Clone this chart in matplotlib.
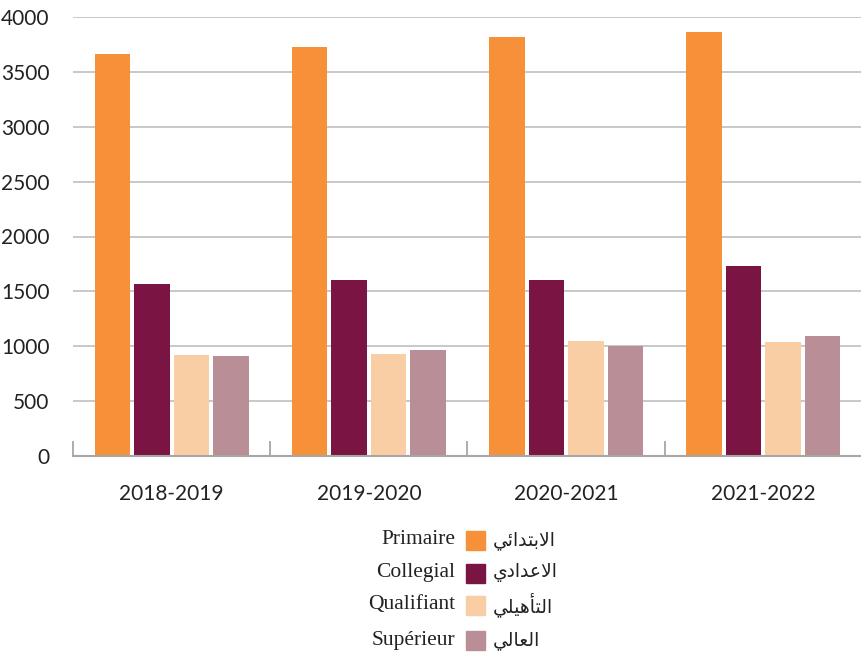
import numpy as np
import matplotlib
matplotlib.use('Agg')
import matplotlib.pyplot as plt
from matplotlib.patches import Rectangle

years = ['2018-2019', '2019-2020', '2020-2021', '2021-2022']
primaire = [3660, 3725, 3815, 3865]
collegial = [1565, 1600, 1600, 1730]
qualifiant = [920, 930, 1045, 1040]
superieur = [910, 965, 1000, 1095]

labels_fr = ['Primaire', 'Collegial', 'Qualifiant', 'Supérieur']
labels_ar = ['الابتدائي', 'الاعدادي', 'التأهيلي', 'العالي']
colors = ['#F6913A', '#7A1442', '#F9CEA5', '#BA8E97']

# minimal arabic shaping (matplotlib does no shaping / bidi)
FORMS = {
    'ا': ('\uFE8D', '\uFE8E', None, None),
    'أ': ('\uFE83', '\uFE84', None, None),
    'د': ('\uFEA9', '\uFEAA', None, None),
    'ب': ('\uFE8F', '\uFE90', '\uFE91', '\uFE92'),
    'ت': ('\uFE95', '\uFE96', '\uFE97', '\uFE98'),
    'ئ': ('\uFE89', '\uFE8A', '\uFE8B', '\uFE8C'),
    'ي': ('\uFEF1', '\uFEF2', '\uFEF3', '\uFEF4'),
    'ل': ('\uFEDD', '\uFEDE', '\uFEDF', '\uFEE0'),
    'ع': ('\uFEC9', '\uFECA', '\uFECB', '\uFECC'),
    'ه': ('\uFEE9', '\uFEEA', '\uFEEB', '\uFEEC'),
}
LAM_ALEF = {'ا': ('\uFEFB', '\uFEFC'), 'أ': ('\uFEF7', '\uFEF8')}


def shape(word):
    out = []
    prev_joins = False
    i = 0
    while i < len(word):
        c = word[i]
        if c == 'ل' and i + 1 < len(word) and word[i + 1] in LAM_ALEF:
            iso, fin = LAM_ALEF[word[i + 1]]
            out.append(fin if prev_joins else iso)
            prev_joins = False
            i += 2
            continue
        iso, fin, ini, med = FORMS[c]
        if ini is not None and i + 1 < len(word):
            out.append(med if prev_joins else ini)
            prev_joins = True
        else:
            out.append(fin if prev_joins else iso)
            prev_joins = False
        i += 1
    return ''.join(reversed(out))


plt.rcParams['font.family'] = ['Lato', 'DejaVu Sans']

fig = plt.figure(figsize=(8.62, 6.55), dpi=100)
ax = fig.add_axes([73 / 862, 199 / 655, 789 / 862, 439 / 655])

x = np.arange(len(years))
series = [primaire, collegial, qualifiant, superieur]
w = 0.18
step = 0.2
for k, vals in enumerate(series):
    ax.bar(x + (k - 1.5) * step, vals, width=w, color=colors[k], zorder=3)

ax.set_ylim(0, 4000)
ax.set_xlim(-0.5, 3.459)
ax.set_yticks(np.arange(0, 4001, 500))
ax.yaxis.grid(True, color='#C4C4C4', linewidth=1.3, zorder=0)
for s in ['left', 'right', 'top']:
    ax.spines[s].set_visible(False)
ax.spines['bottom'].set_color('#A6A6A6')
ax.spines['bottom'].set_linewidth(1.5)
ax.spines['bottom'].set_zorder(4)

ax.set_xticks(x)
ax.set_xticklabels(years, fontsize=15, color='#222222')
ax.set_xticks(np.arange(-0.5, 4, 1), minor=True)
ax.tick_params(axis='x', which='major', length=0, pad=20)
ax.tick_params(axis='x', which='minor', direction='in', length=11, color='#A6A6A6', width=1.3)
ax.tick_params(axis='y', length=0, pad=17, labelsize=15, labelcolor='#222222')

# legend below the chart, french on the left, arabic on the right
rows_y = [540, 573, 605, 640]
for k in range(4):
    yf = 1 - rows_y[k] / 655
    fig.text(455 / 862, yf, labels_fr[k], ha='right', va='center',
             fontsize=15.5, family='Liberation Serif', color='#222222')
    fig.patches.append(Rectangle((466 / 862, yf - 9.5 / 655), 19 / 862, 19 / 655,
                                 transform=fig.transFigure, color=colors[k]))
    fig.text(493 / 862, yf, shape(labels_ar[k]), ha='left', va='center',
             fontsize=13.5, family='DejaVu Sans', color='#222222')

fig.savefig('out.png', dpi=100)
